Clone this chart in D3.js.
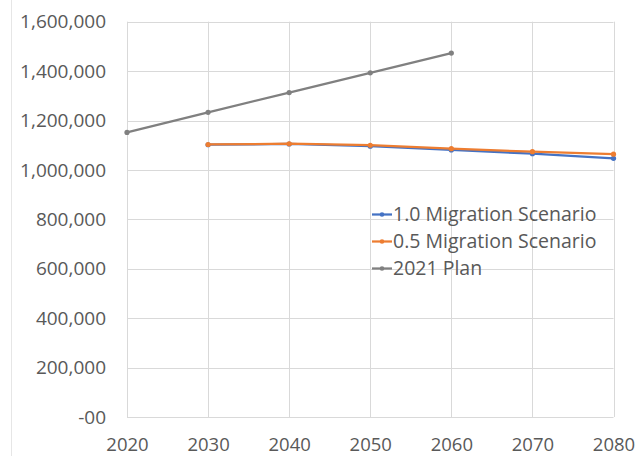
<!DOCTYPE html>
<html><head><meta charset="utf-8">
<script src="https://cdn.jsdelivr.net/npm/d3@7"></script>
<style>html,body{margin:0;padding:0;background:#fff;}svg{display:block;}</style>
</head><body>
<svg id="chart" width="639" height="456"></svg>
<script>
const years = [2020, 2030, 2040, 2050, 2060, 2070, 2080];
const yTicks = [0, 200000, 400000, 600000, 800000, 1000000, 1200000, 1400000, 1600000];
const yTickLabels = ["-00", "200,000", "400,000", "600,000", "800,000", "1,000,000", "1,200,000", "1,400,000", "1,600,000"];
const seriesNames = ["1.0 Migration Scenario", "0.5 Migration Scenario", "2021 Plan"];
const seriesColors = ["#4472C4", "#ED7D31", "#808080"];
const mig10 = [null, 1102000, 1105000, 1096000, 1081000, 1066000, 1047000];
const mig05 = [null, 1103000, 1106000, 1100000, 1086000, 1074000, 1064000];
const plan2021 = [1152000, 1233000, 1313000, 1393000, 1473000, null, null];
const seriesValues = [mig10, mig05, plan2021];

const svg = d3.select("#chart");
const x = d3.scaleLinear().domain([2020, 2080]).range([127, 613.5]);
const y = d3.scaleLinear().domain([0, 1600000]).range([417, 21.7]);
const font = "'Open Sans', 'Noto Sans', sans-serif";
const textColor = "#595959";
const gridColor = "#d9d9d9";

// outer frame line on left
svg.append("line").attr("x1", 11.5).attr("x2", 11.5).attr("y1", 0).attr("y2", 456)
  .attr("stroke", "#e6e6e6").attr("stroke-width", 1);

// gridlines
svg.append("g").selectAll("line").data(yTicks).join("line")
  .attr("x1", x(2020)).attr("x2", x(2080))
  .attr("y1", d => Math.round(y(d)) + 0.5).attr("y2", d => Math.round(y(d)) + 0.5)
  .attr("stroke", gridColor).attr("stroke-width", 1);
svg.append("g").selectAll("line").data(years).join("line")
  .attr("x1", d => Math.round(x(d)) + 0.5).attr("x2", d => Math.round(x(d)) + 0.5)
  .attr("y1", y(1600000)).attr("y2", y(0))
  .attr("stroke", gridColor).attr("stroke-width", 1);

// y axis labels via d3 axis
const yAxis = d3.axisLeft(y).tickValues(yTicks).tickSize(0).tickPadding(0)
  .tickFormat((d, i) => yTickLabels[i]);
const gy = svg.append("g").attr("transform", "translate(106,0)").call(yAxis);
gy.select(".domain").remove();
gy.selectAll("text").attr("font-family", font).attr("font-size", 19).attr("fill", textColor);

// x axis labels
const xAxis = d3.axisBottom(x).tickValues(years).tickSize(0).tickPadding(0).tickFormat(d3.format("d"));
const gx = svg.append("g").attr("transform", "translate(0,450.5)").call(xAxis);
gx.select(".domain").remove();
gx.selectAll("text").attr("font-family", font).attr("font-size", 18.5).attr("fill", textColor)
  .attr("y", 0).attr("dy", 0);

// lines
const line = d3.line().defined(d => d.v !== null).x(d => x(d.year)).y(d => y(d.v));
seriesValues.forEach((vals, i) => {
  const pts = years.map((yr, j) => ({year: yr, v: vals[j]}));
  svg.append("path").datum(pts).attr("d", line).attr("fill", "none")
    .attr("stroke", seriesColors[i]).attr("stroke-width", 2.25).attr("stroke-linejoin", "round");
  svg.append("g").selectAll("circle").data(pts.filter(p => p.v !== null)).join("circle")
    .attr("cx", d => x(d.year)).attr("cy", d => y(d.v)).attr("r", 2.6)
    .attr("fill", seriesColors[i]);
});

// legend
const legY = [214.5, 241.5, 268.5];
seriesNames.forEach((name, i) => {
  const g = svg.append("g").attr("transform", `translate(372,${legY[i]})`);
  g.append("line").attr("x1", 0).attr("x2", 20).attr("y1", 0).attr("y2", 0)
    .attr("stroke", seriesColors[i]).attr("stroke-width", 2.25);
  g.append("circle").attr("cx", 10).attr("cy", 0).attr("r", 2.3).attr("fill", seriesColors[i]);
  g.append("text").attr("x", 21).attr("y", 0).attr("dy", "0.34em")
    .attr("font-family", font).attr("font-size", 19.5).attr("fill", textColor).text(name);
});
</script>
</body></html>
